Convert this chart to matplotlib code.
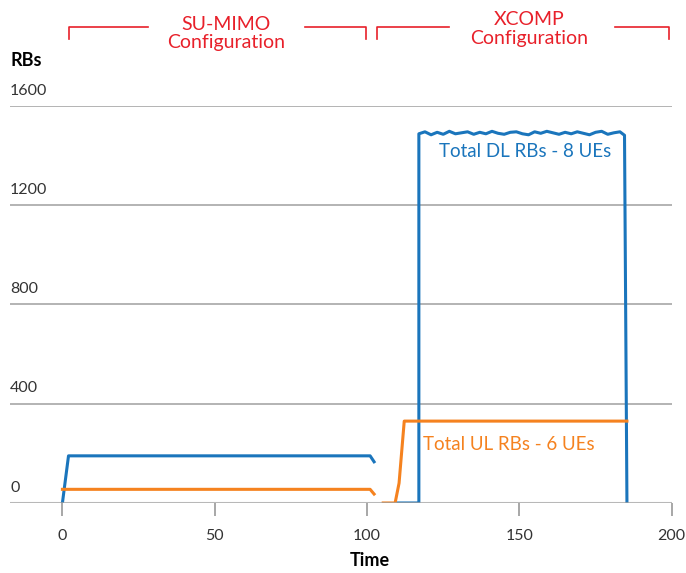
import numpy as np
import matplotlib
matplotlib.use("Agg")
import matplotlib.pyplot as plt
from matplotlib.transforms import blended_transform_factory

plt.rcParams['font.family'] = ['Lato', 'DejaVu Sans']

# SU-MIMO part (time, RBs)
dl_su_t = [0, 2, 101, 102.3]
dl_su_rb = [0, 190, 190, 166]
ul_su_t = [0, 101, 102.3]
ul_su_rb = [55, 55, 36]

# XCOMP part
dl_xc_t = [109.5, 117, 117, 119, 121, 123, 125, 127, 129, 131, 133, 135, 137, 139,
           141, 143, 145, 147, 149, 151, 153, 155, 157, 159, 161, 163, 165, 167,
           169, 171, 173, 175, 177, 179, 181, 183, 184.5, 185.3]
dl_xc_rb = [0, 0, 1488, 1496, 1484, 1494, 1486, 1498, 1488, 1492, 1496, 1486, 1494, 1488,
            1498, 1490, 1486, 1494, 1496, 1488, 1484, 1496, 1490, 1498, 1492, 1486, 1494,
            1488, 1496, 1490, 1484, 1494, 1498, 1486, 1492, 1496, 1482, 0]
ul_xc_t = [105.3, 109.2, 110.5, 112.2, 185.3]
ul_xc_rb = [0, 0, 80, 330, 330]

yticks = [0, 400, 800, 1200, 1600]
xticks = [0, 50, 100, 150, 200]

blue = '#1a75bc'
orange = '#f5821f'
red = '#e8202a'
grid = '#b3b3b3'

fig = plt.figure(figsize=(6.86, 5.73), dpi=100)
ax = fig.add_axes([0.0146, 0.1222, 0.9646, 0.6928])
ax.set_xlim(-17.2, 200)
ax.set_ylim(0, 1600)

for s in ax.spines.values():
    s.set_visible(False)
ax.set_yticks([])
ax.set_xticks(xticks)
ax.tick_params(axis='x', length=9.5, width=1.3, color='#a0a0a0', labelsize=11.5,
               labelcolor='#333333', pad=9)

for v in yticks[1:]:
    ax.axhline(v, color=grid, lw=1.4, zorder=1)
ax.axhline(0, color='#a0a0a0', lw=1.5, zorder=4, alpha=0.75)

for v in yticks:
    ax.annotate(str(v), xy=(0, v), xycoords=('axes fraction', 'data'),
                xytext=(0, 6), textcoords='offset points', ha='left', va='bottom',
                fontsize=11.5, color='#333333')

ax.plot(dl_su_t, dl_su_rb, color=blue, lw=2.2, zorder=3)
ax.plot(dl_xc_t, dl_xc_rb, color=blue, lw=2.2, zorder=3)
ax.plot(ul_su_t, ul_su_rb, color=orange, lw=2.2, zorder=3)
ax.plot(ul_xc_t, ul_xc_rb, color=orange, lw=2.2, zorder=3)

ax.text(123.7, 1415, 'Total DL RBs - 8 UEs', color=blue, fontsize=13.5, va='center')
ax.text(118.5, 234, 'Total UL RBs - 6 UEs', color=orange, fontsize=13.5, va='center')

# configuration brackets
tr = blended_transform_factory(ax.transData, fig.transFigure)
ytop = 1 - 27.3 / 573
ybot = 1 - 39.3 / 573
for (a, b, c, d) in [(2, 28.2, 79.6, 99.6), (103.4, 127, 181.3, 199)]:
    ax.plot([a, a, b], [ybot, ytop, ytop], color=red, lw=1.2, transform=tr, clip_on=False)
    ax.plot([c, d, d], [ytop, ytop, ybot], color=red, lw=1.2, transform=tr, clip_on=False)
ax.text(53.8, 1 - 33.5 / 573, 'SU-MIMO\nConfiguration', color=red, fontsize=14,
        ha='center', va='center', linespacing=1.1, transform=tr)
ax.text(153.2, 1 - 29 / 573, 'XCOMP\nConfiguration', color=red, fontsize=14,
        ha='center', va='center', linespacing=1.1, transform=tr)

fig.text(10 / 686, 1 - 60 / 573, 'RBs', fontsize=13, fontweight='bold', va='center')
ax.text(101, 1 - 561 / 573, 'Time', fontsize=13, fontweight='bold', ha='center',
        va='center', transform=tr)

fig.savefig('out.png', dpi=100)
